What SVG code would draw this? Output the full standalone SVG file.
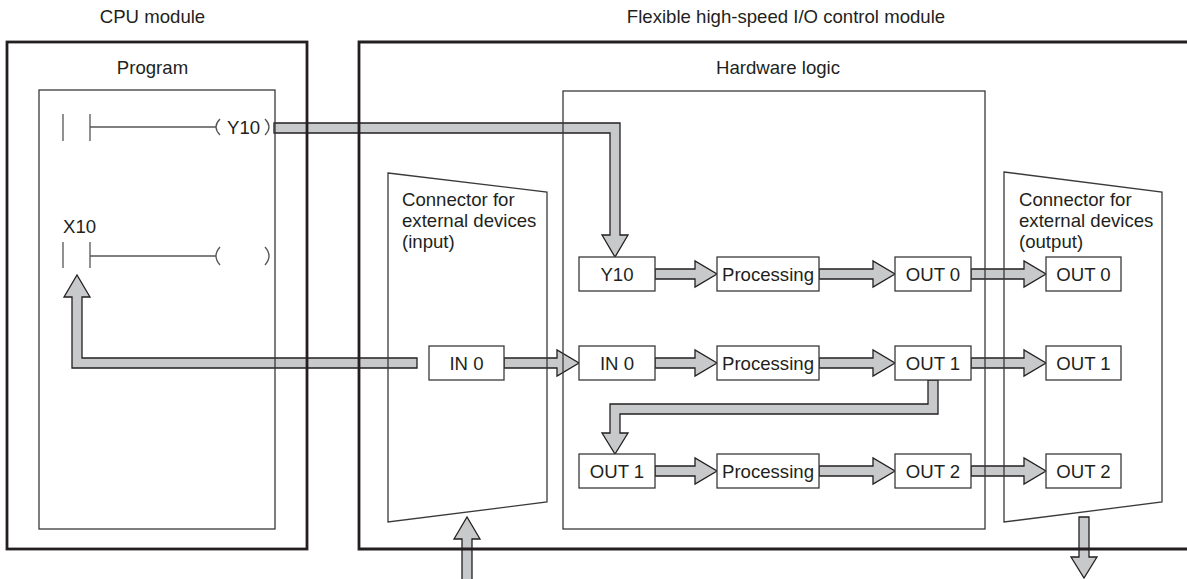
<svg xmlns="http://www.w3.org/2000/svg" width="1187" height="579" viewBox="0 0 1187 579">
<style>
  text { font-family: "Liberation Sans", Arial, sans-serif; font-size: 18.6px; fill: #231f20; }
  .c { text-anchor: middle; }
  .outer { fill: none; stroke: #231f20; stroke-width: 2.8; }
  .inner { fill: none; stroke: #3a3a3a; stroke-width: 1.3; }
  .node rect { fill: #ffffff; stroke: #3a3a3a; stroke-width: 1.3; }
  .arrow { fill: #c8c9ca; stroke: #231f20; stroke-width: 1.3; stroke-linejoin: miter; }
  .ladder { fill: none; stroke: #555555; stroke-width: 1.3; }
</style>

<!-- connectors -->
<g id="connectors">
  <!-- Y10 coil to hardware Y10 -->
  <polygon class="arrow" points="274,123 620,123 620,235 628,235 615,257 602,235 610,235 610,133 274,133"/>
  <!-- IN 0 to X10 -->
  <polygon class="arrow" points="417,358 82,358 82,297 90,297 77,275 64,297 72,297 72,368 417,368"/>
  <!-- row 1 -->
  <polygon class="arrow" points="655,269 695,269 695,261 717,274 695,287 695,279 655,279"/>
  <polygon class="arrow" points="819,269 873,269 873,261 895,274 873,287 873,279 819,279"/>
  <polygon class="arrow" points="971,269 1024,269 1024,261 1046,274 1024,287 1024,279 971,279"/>
  <!-- row 2 -->
  <polygon class="arrow" points="504,358 557,358 557,350 579,363 557,376 557,368 504,368"/>
  <polygon class="arrow" points="655,358 695,358 695,350 717,363 695,376 695,368 655,368"/>
  <polygon class="arrow" points="819,358 873,358 873,350 895,363 873,376 873,368 819,368"/>
  <polygon class="arrow" points="971,358 1024,358 1024,350 1046,363 1024,376 1024,368 971,368"/>
  <!-- OUT 1 feedback to row 3 -->
  <polygon class="arrow" points="928,380 938,380 938,414 620,414 620,433 628,433 615,454 602,433 610,433 610,404 928,404"/>
  <!-- row 3 -->
  <polygon class="arrow" points="655,466 695,466 695,458 717,471 695,484 695,476 655,476"/>
  <polygon class="arrow" points="819,466 873,466 873,458 895,471 873,484 873,476 819,476"/>
  <polygon class="arrow" points="971,466 1024,466 1024,458 1046,471 1024,484 1024,476 971,476"/>
  <!-- external input / output -->
  <polygon class="arrow" points="462,583 462,539 454,539 467,517 480,539 472,539 472,583"/>
  <polygon class="arrow" points="1079,517 1089,517 1089,557 1097,557 1084,578 1071,557 1079,557"/>
</g>

<!-- CPU module -->
<g id="cpu-module">
  <text class="c" x="152.5" y="23">CPU module</text>
  <rect class="outer" x="7" y="42" width="300" height="507"/>
</g>

<!-- Program -->
<g id="program">
  <text class="c" x="152.5" y="74">Program</text>
  <rect class="inner" x="39" y="90" width="236" height="439"/>
  <g id="rung-y10">
    <line class="ladder" x1="63" y1="114" x2="63" y2="141"/>
    <line class="ladder" x1="90" y1="114" x2="90" y2="141"/>
    <line class="ladder" x1="90" y1="127" x2="216" y2="127"/>
    <path class="ladder" d="M220,119 Q212,127 220,135"/>
    <text x="227" y="134">Y10</text>
    <path class="ladder" d="M265,119 Q273,127 265,135"/>
  </g>
  <g id="rung-x10">
    <text x="63" y="233">X10</text>
    <line class="ladder" x1="63" y1="242" x2="63" y2="268"/>
    <line class="ladder" x1="90" y1="242" x2="90" y2="268"/>
    <line class="ladder" x1="90" y1="256" x2="216" y2="256"/>
    <path class="ladder" d="M220,247 Q212,256 220,265"/>
    <path class="ladder" d="M265,247 Q273,256 265,265"/>
  </g>
</g>

<!-- Flexible high-speed I/O control module -->
<g id="flex-module">
  <text class="c" x="786" y="23">Flexible high-speed I/O control module</text>
  <path class="outer" d="M1192,42 H359 V549 H1192"/>
</g>

<!-- Connector (input) -->
<g id="connector-input">
  <polygon class="inner" points="388,173 547,192 547,502 388,522"/>
  <text x="402" y="206">Connector for</text>
  <text x="402" y="227">external devices</text>
  <text x="402" y="248">(input)</text>
</g>

<!-- Hardware logic -->
<g id="hardware-logic">
  <text class="c" x="778" y="74">Hardware logic</text>
  <rect class="inner" x="563" y="91" width="422" height="438"/>
</g>

<!-- Connector (output) -->
<g id="connector-output">
  <polygon class="inner" points="1004,172 1162,192 1162,502 1004,522"/>
  <text x="1019" y="206">Connector for</text>
  <text x="1019" y="227">external devices</text>
  <text x="1019" y="248">(output)</text>
</g>

<!-- nodes -->
<g id="node-in0-conn" class="node"><rect x="429" y="346" width="75" height="34"/><text class="c" x="466.5" y="369.5">IN 0</text></g>

<g id="node-y10" class="node"><rect x="579" y="257" width="76" height="34"/><text class="c" x="617" y="280.5">Y10</text></g>
<g id="node-in0" class="node"><rect x="579" y="346" width="76" height="34"/><text class="c" x="617" y="369.5">IN 0</text></g>
<g id="node-out1-in" class="node"><rect x="579" y="454" width="76" height="34"/><text class="c" x="617" y="477.5">OUT 1</text></g>

<g id="node-proc-0" class="node"><rect x="717" y="257" width="102" height="34"/><text class="c" x="768" y="280.5">Processing</text></g>
<g id="node-proc-1" class="node"><rect x="717" y="346" width="102" height="34"/><text class="c" x="768" y="369.5">Processing</text></g>
<g id="node-proc-2" class="node"><rect x="717" y="454" width="102" height="34"/><text class="c" x="768" y="477.5">Processing</text></g>

<g id="node-out0" class="node"><rect x="895" y="257" width="76" height="34"/><text class="c" x="933" y="280.5">OUT 0</text></g>
<g id="node-out1" class="node"><rect x="895" y="346" width="76" height="34"/><text class="c" x="933" y="369.5">OUT 1</text></g>
<g id="node-out2" class="node"><rect x="895" y="454" width="76" height="34"/><text class="c" x="933" y="477.5">OUT 2</text></g>

<g id="node-out0-conn" class="node"><rect x="1046" y="257" width="75" height="34"/><text class="c" x="1083.5" y="280.5">OUT 0</text></g>
<g id="node-out1-conn" class="node"><rect x="1046" y="346" width="75" height="34"/><text class="c" x="1083.5" y="369.5">OUT 1</text></g>
<g id="node-out2-conn" class="node"><rect x="1046" y="454" width="75" height="34"/><text class="c" x="1083.5" y="477.5">OUT 2</text></g>
</svg>
